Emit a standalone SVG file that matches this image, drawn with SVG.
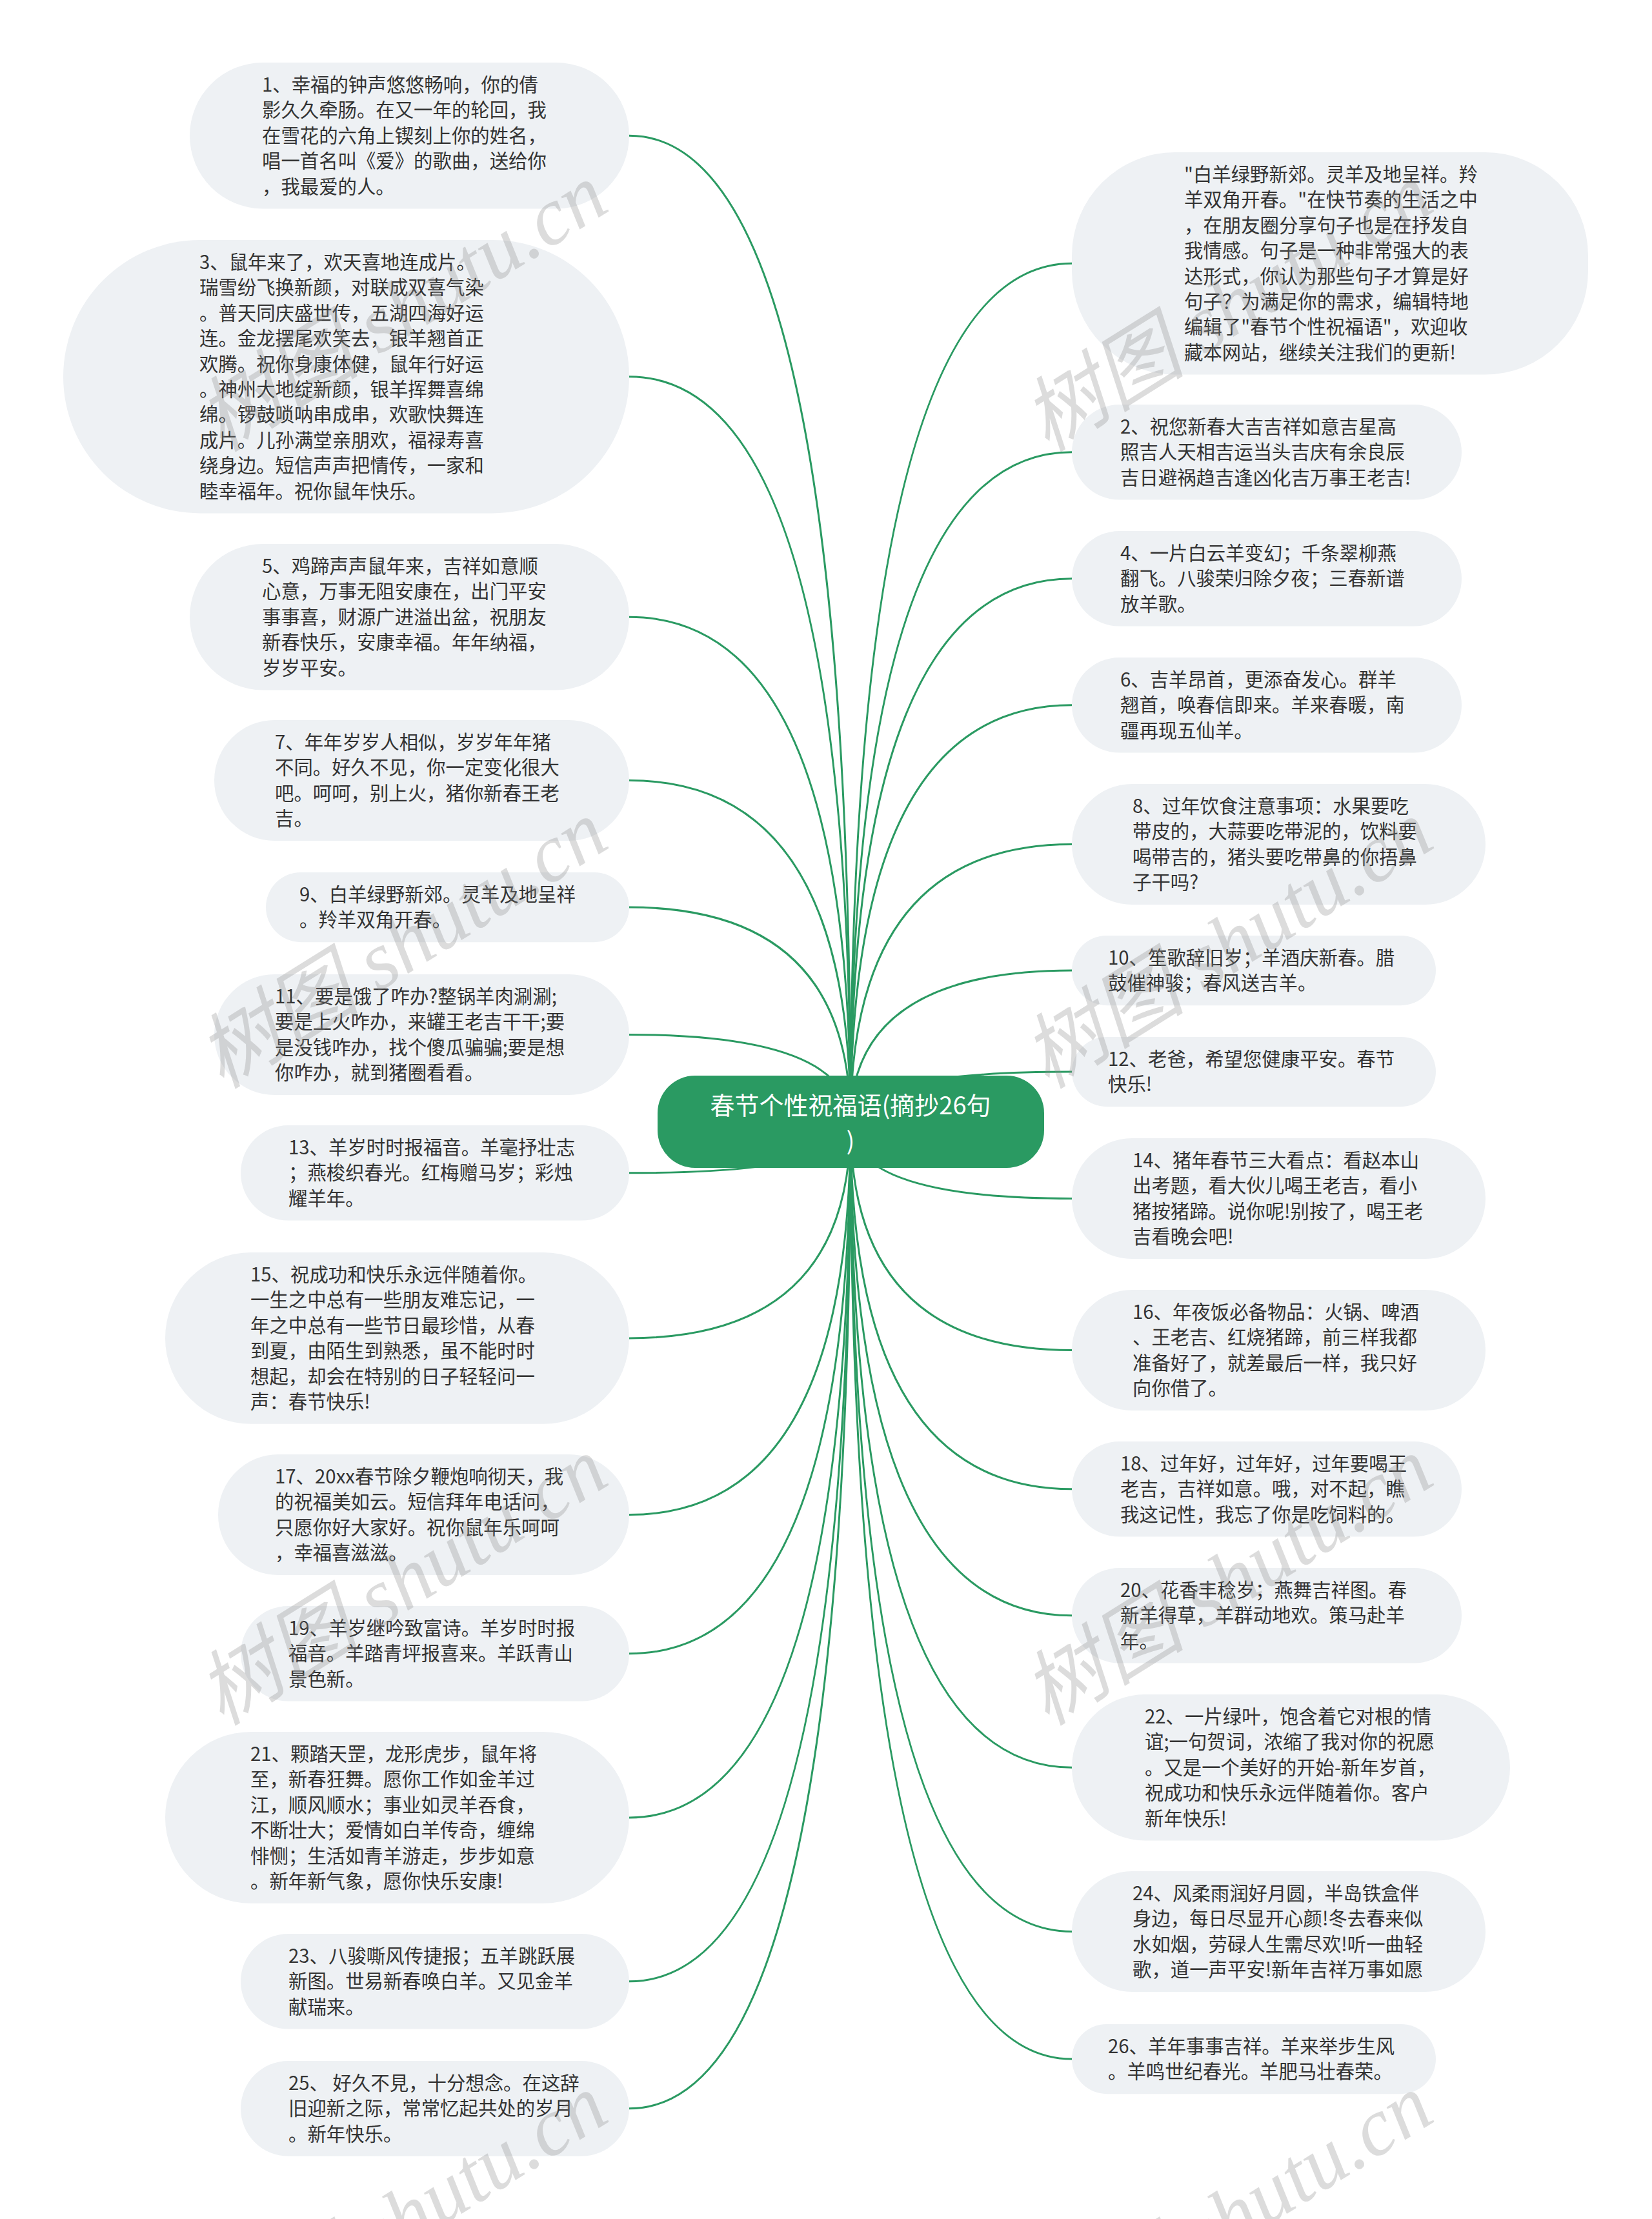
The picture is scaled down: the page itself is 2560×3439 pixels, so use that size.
<svg xmlns="http://www.w3.org/2000/svg" width="2560" height="3439" viewBox="0 0 2560 3439">
<style>
.bg{fill:#ffffff}
.node rect{fill:#eef1f4}
.node text{font-family:"Noto Sans CJK SC","Noto Sans",sans-serif;font-size:29.4px;fill:#333333}
.conn path{fill:none;stroke:#2a9a62;stroke-width:3}
.root rect{fill:#2a9a62}
.root text{font-family:"Noto Sans CJK SC","Noto Sans",sans-serif;font-size:38px;fill:#ffffff;text-anchor:middle}
.wm text{font-family:"Liberation Serif","Noto Sans CJK SC",serif;font-style:italic;font-size:127px;fill:#8a8a8a;fill-opacity:0.3}
</style>
<rect class="bg" x="0" y="0" width="2560" height="3439"/>
<g id="connectors" class="conn">
<path d="M1318 1740 Q1318 210.2 975 210.2"/>
<path d="M1318 1740 Q1318 583.7 975 583.7"/>
<path d="M1318 1740 Q1318 956.2 975 956.2"/>
<path d="M1318 1740 Q1318 1209.5 975 1209.5"/>
<path d="M1318 1740 Q1318 1406.1 975 1406.1"/>
<path d="M1318 1740 Q1318 1603.5 975 1603.5"/>
<path d="M1318 1740 Q1318 1817.8 975 1817.8"/>
<path d="M1318 1740 Q1318 2073.9 975 2073.9"/>
<path d="M1318 1740 Q1318 2347.5 975 2347.5"/>
<path d="M1318 1740 Q1318 2562.8 975 2562.8"/>
<path d="M1318 1740 Q1318 2816.9 975 2816.9"/>
<path d="M1318 1740 Q1318 3070.8 975 3070.8"/>
<path d="M1318 1740 Q1318 3267.8 975 3267.8"/>
<path d="M1318 1740 Q1318 408.3 1661 408.3"/>
<path d="M1318 1740 Q1318 700.8 1661 700.8"/>
<path d="M1318 1740 Q1318 896.8 1661 896.8"/>
<path d="M1318 1740 Q1318 1092.8 1661 1092.8"/>
<path d="M1318 1740 Q1318 1308.5 1661 1308.5"/>
<path d="M1318 1740 Q1318 1504.1 1661 1504.1"/>
<path d="M1318 1740 Q1318 1661.1 1661 1661.1"/>
<path d="M1318 1740 Q1318 1857.5 1661 1857.5"/>
<path d="M1318 1740 Q1318 2092.5 1661 2092.5"/>
<path d="M1318 1740 Q1318 2307.8 1661 2307.8"/>
<path d="M1318 1740 Q1318 2503.8 1661 2503.8"/>
<path d="M1318 1740 Q1318 2739.2 1661 2739.2"/>
<path d="M1318 1740 Q1318 2993.5 1661 2993.5"/>
<path d="M1318 1740 Q1318 3191.1 1661 3191.1"/>
</g>

<g id="n1" class="node"><rect x="294" y="97" width="681" height="226.4" rx="113.2"/>
<text y="142"><tspan x="406">1、幸福的钟声悠悠畅响，你的倩</tspan><tspan x="406" dy="39.4">影久久牵肠。在又一年的轮回，我</tspan><tspan x="406" dy="39.4">在雪花的六角上锲刻上你的姓名，</tspan><tspan x="406" dy="39.4">唱一首名叫《爱》的歌曲，送给你</tspan><tspan x="406" dy="39.4">，我最爱的人。</tspan></text></g>

<g id="n3" class="node"><rect x="98" y="372" width="877" height="423.4" rx="211.7"/>
<text y="417"><tspan x="309">3、鼠年来了，欢天喜地连成片。</tspan><tspan x="309" dy="39.4">瑞雪纷飞换新颜，对联成双喜气染</tspan><tspan x="309" dy="39.4">。普天同庆盛世传，五湖四海好运</tspan><tspan x="309" dy="39.4">连。金龙摆尾欢笑去，银羊翘首正</tspan><tspan x="309" dy="39.4">欢腾。祝你身康体健，鼠年行好运</tspan><tspan x="309" dy="39.4">。神州大地绽新颜，银羊挥舞喜绵</tspan><tspan x="309" dy="39.4">绵。锣鼓唢呐串成串，欢歌快舞连</tspan><tspan x="309" dy="39.4">成片。儿孙满堂亲朋欢，福禄寿喜</tspan><tspan x="309" dy="39.4">绕身边。短信声声把情传，一家和</tspan><tspan x="309" dy="39.4">睦幸福年。祝你鼠年快乐。</tspan></text></g>

<g id="n5" class="node"><rect x="294" y="843" width="681" height="226.4" rx="113.2"/>
<text y="888"><tspan x="406">5、鸡蹄声声鼠年来，吉祥如意顺</tspan><tspan x="406" dy="39.4">心意，万事无阻安康在，出门平安</tspan><tspan x="406" dy="39.4">事事喜，财源广进溢出盆，祝朋友</tspan><tspan x="406" dy="39.4">新春快乐，安康幸福。年年纳福，</tspan><tspan x="406" dy="39.4">岁岁平安。</tspan></text></g>

<g id="n7" class="node"><rect x="332" y="1116" width="643" height="187" rx="93.5"/>
<text y="1161"><tspan x="426">7、年年岁岁人相似，岁岁年年猪</tspan><tspan x="426" dy="39.4">不同。好久不见，你一定变化很大</tspan><tspan x="426" dy="39.4">吧。呵呵，别上火，猪你新春王老</tspan><tspan x="426" dy="39.4">吉。</tspan></text></g>

<g id="n9" class="node"><rect x="412" y="1352" width="563" height="108.2" rx="54.1"/>
<text y="1397"><tspan x="464">9、白羊绿野新郊。灵羊及地呈祥</tspan><tspan x="464" dy="39.4">。羚羊双角开春。</tspan></text></g>

<g id="n11" class="node"><rect x="332" y="1510" width="643" height="187" rx="93.5"/>
<text y="1555"><tspan x="426">11、要是饿了咋办?整锅羊肉涮涮;</tspan><tspan x="426" dy="39.4">要是上火咋办，来罐王老吉干干;要</tspan><tspan x="426" dy="39.4">是没钱咋办，找个傻瓜骗骗;要是想</tspan><tspan x="426" dy="39.4">你咋办，就到猪圈看看。</tspan></text></g>

<g id="n13" class="node"><rect x="373" y="1744" width="602" height="147.6" rx="73.8"/>
<text y="1789"><tspan x="447">13、羊岁时时报福音。羊毫抒壮志</tspan><tspan x="447" dy="39.4">；燕梭织春光。红梅赠马岁；彩烛</tspan><tspan x="447" dy="39.4">耀羊年。</tspan></text></g>

<g id="n15" class="node"><rect x="256" y="1941" width="719" height="265.8" rx="132.9"/>
<text y="1986"><tspan x="388">15、祝成功和快乐永远伴随着你。</tspan><tspan x="388" dy="39.4">一生之中总有一些朋友难忘记，一</tspan><tspan x="388" dy="39.4">年之中总有一些节日最珍惜，从春</tspan><tspan x="388" dy="39.4">到夏，由陌生到熟悉，虽不能时时</tspan><tspan x="388" dy="39.4">想起，却会在特别的日子轻轻问一</tspan><tspan x="388" dy="39.4">声：春节快乐!</tspan></text></g>

<g id="n17" class="node"><rect x="338" y="2254" width="637" height="187" rx="93.5"/>
<text y="2299"><tspan x="426">17、20xx春节除夕鞭炮响彻天，我</tspan><tspan x="426" dy="39.4">的祝福美如云。短信拜年电话问，</tspan><tspan x="426" dy="39.4">只愿你好大家好。祝你鼠年乐呵呵</tspan><tspan x="426" dy="39.4">，幸福喜滋滋。</tspan></text></g>

<g id="n19" class="node"><rect x="373" y="2489" width="602" height="147.6" rx="73.8"/>
<text y="2534"><tspan x="447">19、羊岁继吟致富诗。羊岁时时报</tspan><tspan x="447" dy="39.4">福音。羊踏青坪报喜来。羊跃青山</tspan><tspan x="447" dy="39.4">景色新。</tspan></text></g>

<g id="n21" class="node"><rect x="256" y="2684" width="719" height="265.8" rx="132.9"/>
<text y="2729"><tspan x="388">21、颗踏天罡，龙形虎步，鼠年将</tspan><tspan x="388" dy="39.4">至，新春狂舞。愿你工作如金羊过</tspan><tspan x="388" dy="39.4">江，顺风顺水；事业如灵羊吞食，</tspan><tspan x="388" dy="39.4">不断壮大；爱情如白羊传奇，缠绵</tspan><tspan x="388" dy="39.4">悱恻；生活如青羊游走，步步如意</tspan><tspan x="388" dy="39.4">。新年新气象，愿你快乐安康!</tspan></text></g>

<g id="n23" class="node"><rect x="373" y="2997" width="602" height="147.6" rx="73.8"/>
<text y="3042"><tspan x="447">23、八骏嘶风传捷报；五羊跳跃展</tspan><tspan x="447" dy="39.4">新图。世易新春唤白羊。又见金羊</tspan><tspan x="447" dy="39.4">献瑞来。</tspan></text></g>

<g id="n25" class="node"><rect x="373" y="3194" width="602" height="147.6" rx="73.8"/>
<text y="3239"><tspan x="447">25、 好久不見，十分想念。在这辞</tspan><tspan x="447" dy="39.4">旧迎新之际，常常忆起共处的岁月</tspan><tspan x="447" dy="39.4">。新年快乐。</tspan></text></g>

<g id="n0" class="node"><rect x="1661" y="236" width="800" height="344.6" rx="160"/>
<text y="281"><tspan x="1835">"白羊绿野新郊。灵羊及地呈祥。羚</tspan><tspan x="1835" dy="39.4">羊双角开春。"在快节奏的生活之中</tspan><tspan x="1835" dy="39.4">，在朋友圈分享句子也是在抒发自</tspan><tspan x="1835" dy="39.4">我情感。句子是一种非常强大的表</tspan><tspan x="1835" dy="39.4">达形式，你认为那些句子才算是好</tspan><tspan x="1835" dy="39.4">句子？为满足你的需求，编辑特地</tspan><tspan x="1835" dy="39.4">编辑了"春节个性祝福语"，欢迎收</tspan><tspan x="1835" dy="39.4">藏本网站，继续关注我们的更新!</tspan></text></g>

<g id="n2" class="node"><rect x="1661" y="627" width="604" height="147.6" rx="73.8"/>
<text y="672"><tspan x="1736">2、祝您新春大吉吉祥如意吉星高</tspan><tspan x="1736" dy="39.4">照吉人天相吉运当头吉庆有余良辰</tspan><tspan x="1736" dy="39.4">吉日避祸趋吉逢凶化吉万事王老吉!</tspan></text></g>

<g id="n4" class="node"><rect x="1661" y="823" width="604" height="147.6" rx="73.8"/>
<text y="868"><tspan x="1736">4、一片白云羊变幻；千条翠柳燕</tspan><tspan x="1736" dy="39.4">翻飞。八骏荣归除夕夜；三春新谱</tspan><tspan x="1736" dy="39.4">放羊歌。</tspan></text></g>

<g id="n6" class="node"><rect x="1661" y="1019" width="604" height="147.6" rx="73.8"/>
<text y="1064"><tspan x="1736">6、吉羊昂首，更添奋发心。群羊</tspan><tspan x="1736" dy="39.4">翘首，唤春信即来。羊来春暖，南</tspan><tspan x="1736" dy="39.4">疆再现五仙羊。</tspan></text></g>

<g id="n8" class="node"><rect x="1661" y="1215" width="641" height="187" rx="93.5"/>
<text y="1260"><tspan x="1755">8、过年饮食注意事项：水果要吃</tspan><tspan x="1755" dy="39.4">带皮的，大蒜要吃带泥的，饮料要</tspan><tspan x="1755" dy="39.4">喝带吉的，猪头要吃带鼻的你捂鼻</tspan><tspan x="1755" dy="39.4">子干吗?</tspan></text></g>

<g id="n10" class="node"><rect x="1661" y="1450" width="564" height="108.2" rx="54.1"/>
<text y="1495"><tspan x="1717">10、笙歌辞旧岁；羊酒庆新春。腊</tspan><tspan x="1717" dy="39.4">鼓催神骏；春风送吉羊。</tspan></text></g>

<g id="n12" class="node"><rect x="1661" y="1607" width="564" height="108.2" rx="54.1"/>
<text y="1652"><tspan x="1717">12、老爸，希望您健康平安。春节</tspan><tspan x="1717" dy="39.4">快乐!</tspan></text></g>

<g id="n14" class="node"><rect x="1661" y="1764" width="641" height="187" rx="93.5"/>
<text y="1809"><tspan x="1755">14、猪年春节三大看点：看赵本山</tspan><tspan x="1755" dy="39.4">出考题，看大伙儿喝王老吉，看小</tspan><tspan x="1755" dy="39.4">猪按猪蹄。说你呢!别按了，喝王老</tspan><tspan x="1755" dy="39.4">吉看晚会吧!</tspan></text></g>

<g id="n16" class="node"><rect x="1661" y="1999" width="641" height="187" rx="93.5"/>
<text y="2044"><tspan x="1755">16、年夜饭必备物品：火锅、啤酒</tspan><tspan x="1755" dy="39.4">、王老吉、红烧猪蹄，前三样我都</tspan><tspan x="1755" dy="39.4">准备好了，就差最后一样，我只好</tspan><tspan x="1755" dy="39.4">向你借了。</tspan></text></g>

<g id="n18" class="node"><rect x="1661" y="2234" width="604" height="147.6" rx="73.8"/>
<text y="2279"><tspan x="1736">18、过年好，过年好，过年要喝王</tspan><tspan x="1736" dy="39.4">老吉，吉祥如意。哦，对不起，瞧</tspan><tspan x="1736" dy="39.4">我这记性，我忘了你是吃饲料的。</tspan></text></g>

<g id="n20" class="node"><rect x="1661" y="2430" width="604" height="147.6" rx="73.8"/>
<text y="2475"><tspan x="1736">20、花香丰稔岁；燕舞吉祥图。春</tspan><tspan x="1736" dy="39.4">新羊得草，羊群动地欢。策马赴羊</tspan><tspan x="1736" dy="39.4">年。</tspan></text></g>

<g id="n22" class="node"><rect x="1661" y="2626" width="679" height="226.4" rx="113.2"/>
<text y="2671"><tspan x="1774">22、一片绿叶，饱含着它对根的情</tspan><tspan x="1774" dy="39.4">谊;一句贺词，浓缩了我对你的祝愿</tspan><tspan x="1774" dy="39.4">。又是一个美好的开始-新年岁首，</tspan><tspan x="1774" dy="39.4">祝成功和快乐永远伴随着你。客户</tspan><tspan x="1774" dy="39.4">新年快乐!</tspan></text></g>

<g id="n24" class="node"><rect x="1661" y="2900" width="641" height="187" rx="93.5"/>
<text y="2945"><tspan x="1755">24、风柔雨润好月圆，半岛铁盒伴</tspan><tspan x="1755" dy="39.4">身边，每日尽显开心颜!冬去春来似</tspan><tspan x="1755" dy="39.4">水如烟，劳碌人生需尽欢!听一曲轻</tspan><tspan x="1755" dy="39.4">歌，道一声平安!新年吉祥万事如愿</tspan></text></g>

<g id="n26" class="node"><rect x="1661" y="3137" width="564" height="108.2" rx="54.1"/>
<text y="3182"><tspan x="1717">26、羊年事事吉祥。羊来举步生风</tspan><tspan x="1717" dy="39.4">。羊鸣世纪春光。羊肥马壮春荣。</tspan></text></g>

<g id="root" class="root"><rect x="1019" y="1667" width="599" height="143" rx="58"/>
<text x="1318" y="1727">春节个性祝福语(摘抄26句</text>
<text x="1318" y="1782">)</text></g>

<g id="watermark" class="wm">
<text transform="translate(344 702) rotate(-32)">树图 shutu.cn</text>
<text transform="translate(1623 702) rotate(-32)">树图 shutu.cn</text>
<text transform="translate(344 1689) rotate(-32)">树图 shutu.cn</text>
<text transform="translate(1623 1689) rotate(-32)">树图 shutu.cn</text>
<text transform="translate(344 2676) rotate(-32)">树图 shutu.cn</text>
<text transform="translate(1623 2676) rotate(-32)">树图 shutu.cn</text>
<text transform="translate(344 3663) rotate(-32)">树图 shutu.cn</text>
<text transform="translate(1623 3663) rotate(-32)">树图 shutu.cn</text>
</g>
</svg>
